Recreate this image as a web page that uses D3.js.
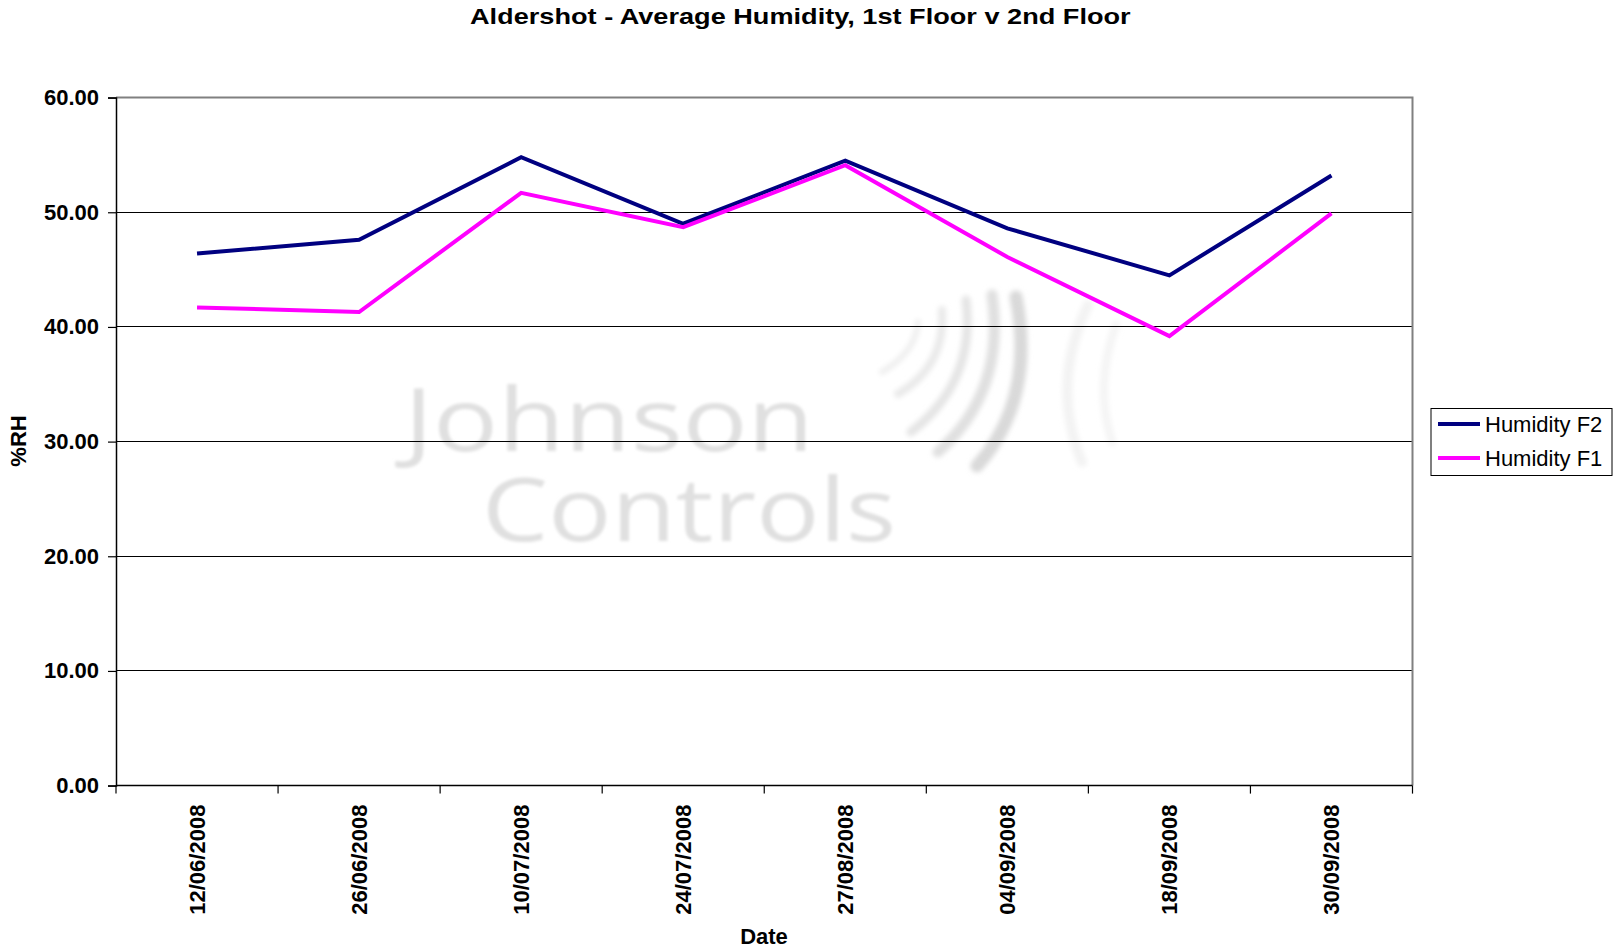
<!DOCTYPE html>
<html>
<head>
<meta charset="utf-8">
<script src="https://cdn.jsdelivr.net/npm/d3@7"></script>
<style>
  html, body { margin: 0; padding: 0; background: #fff; }
  svg { display: block; }
</style>
</head>
<body>
<svg id="chart" width="1613" height="951"></svg>
<script>
const categories = ["12/06/2008","26/06/2008","10/07/2008","24/07/2008","27/08/2008","04/09/2008","18/09/2008","30/09/2008"];
const humidityF2 = [46.4, 47.6, 54.8, 49.0, 54.5, 48.6, 44.5, 53.2];
const humidityF1 = [41.7, 41.3, 51.7, 48.7, 54.1, 46.1, 39.2, 49.9];
const seriesNames = ["Humidity F2", "Humidity F1"];
const seriesColors = ["#000080", "#FF00FF"];
const yTicks = [0, 10, 20, 30, 40, 50, 60];

const svg = d3.select("#chart");
const m = { left: 116, top: 97.6, right: 1412.5, bottom: 785.6 };
const FONT = "Liberation Sans, Arial, sans-serif";

const x = d3.scaleBand().domain(categories).range([m.left, m.right]).padding(0);
const xc = d => x(d) + x.bandwidth() / 2;
const y = d3.scaleLinear().domain([0, 60]).range([m.bottom, m.top]);

// blur filters for watermark
const defs = svg.append("defs");
defs.append("filter").attr("id", "blur").append("feGaussianBlur").attr("stdDeviation", 1.8);
defs.append("filter").attr("id", "blur2").attr("x", "-20%").attr("y", "-20%").attr("width", "140%").attr("height", "140%")
  .append("feGaussianBlur").attr("stdDeviation", 2.6);

// Watermark (background logo)
const wm = svg.append("g").attr("filter", "url(#blur)");
const wt = wm.append("text").attr("font-family", "Open Sans, sans-serif")
  .attr("font-size", 88).attr("fill", "#e0e0e0");
wt.append("tspan").attr("x", 404).attr("y", 451).attr("textLength", 410).attr("lengthAdjust", "spacingAndGlyphs").text("Johnson");
wt.append("tspan").attr("x", 482).attr("y", 541).attr("textLength", 414).attr("lengthAdjust", "spacingAndGlyphs").text("Controls");
const strokes = [
  { d: "M1016,297 Q1036,400 977,466", w: 13, c: "#d9d9d9" },
  { d: "M992,295 Q1006,392 938,452", w: 11, c: "#e0e0e0" },
  { d: "M966,300 Q976,382 911,432", w: 9, c: "#e5e5e5" },
  { d: "M942,310 Q946,366 898,394", w: 8, c: "#eaeaea" },
  { d: "M918,322 Q916,352 882,372", w: 6, c: "#efefef" },
  { d: "M1088,305 Q1050,385 1082,462", w: 10, c: "#f3f3f3" },
  { d: "M1116,325 Q1094,385 1112,442", w: 8, c: "#f4f4f4" }
];
const wl = svg.append("g").attr("filter", "url(#blur2)");
wl.selectAll("path").data(strokes).join("path")
  .attr("d", s => s.d).attr("fill", "none").attr("stroke", s => s.c)
  .attr("stroke-width", s => s.w).attr("stroke-linecap", "round");

// Gridlines
svg.append("g").selectAll("line").data(yTicks.filter(t => t > 0 && t < 60)).join("line")
  .attr("x1", m.left).attr("x2", m.right).attr("y1", d => y(d)).attr("y2", d => y(d))
  .attr("stroke", "#000").attr("stroke-width", 1).attr("shape-rendering", "crispEdges");

// Plot border (top, right)
svg.append("path")
  .attr("d", `M${m.left},${y(60)}H${m.right}V${m.bottom}`)
  .attr("fill", "none").attr("stroke", "#808080").attr("stroke-width", 2);

// Y axis
const yAxis = svg.append("g").attr("transform", `translate(${m.left},0)`)
  .call(d3.axisLeft(y).tickValues(yTicks).tickFormat(d3.format(".2f")).tickSize(8).tickPadding(9));
yAxis.select(".domain").attr("stroke", "#000").attr("stroke-width", 1.5);
yAxis.selectAll(".tick line").attr("stroke", "#000").attr("stroke-width", 1.2);
yAxis.selectAll("text").attr("font-family", FONT).attr("font-size", 22).attr("font-weight", "bold").attr("fill", "#000");

// X axis line and boundary ticks
const xg = svg.append("g");
xg.append("line").attr("x1", m.left).attr("x2", m.right).attr("y1", m.bottom).attr("y2", m.bottom)
  .attr("stroke", "#000").attr("stroke-width", 1.5);
const bounds = categories.map(d => x(d)).concat([x(categories[categories.length - 1]) + x.bandwidth()]);
xg.selectAll("line.tk").data(bounds).join("line").attr("class", "tk")
  .attr("x1", d => d).attr("x2", d => d).attr("y1", m.bottom).attr("y2", m.bottom + 8)
  .attr("stroke", "#000").attr("stroke-width", 1.2);
xg.selectAll("text").data(categories).join("text")
  .attr("transform", d => `translate(${xc(d) + 8},${m.bottom + 19}) rotate(-90)`)
  .attr("text-anchor", "end")
  .attr("font-family", FONT).attr("font-size", 22).attr("font-weight", "bold").attr("fill", "#000")
  .text(d => d);

// Lines
const line = d3.line().x((d, i) => xc(categories[i])).y(d => y(d));
[humidityF2, humidityF1].forEach((s, i) => {
  svg.append("path").datum(s).attr("d", line).attr("fill", "none")
    .attr("stroke", seriesColors[i]).attr("stroke-width", 4).attr("stroke-linejoin", "miter");
});

// Title (horizontally widened as in the reference)
svg.append("text").attr("transform", "translate(470,24) scale(1.234,1)")
  .attr("font-family", FONT).attr("font-size", 22).attr("font-weight", "bold").attr("fill", "#000")
  .text("Aldershot - Average Humidity, 1st Floor v 2nd Floor");

// Axis titles
svg.append("text").attr("transform", "translate(26,441) rotate(-90)").attr("text-anchor", "middle")
  .attr("font-family", FONT).attr("font-size", 22).attr("font-weight", "bold").attr("fill", "#000")
  .text("%RH");
svg.append("text").attr("x", 764).attr("y", 944).attr("text-anchor", "middle")
  .attr("font-family", FONT).attr("font-size", 22).attr("font-weight", "bold").attr("fill", "#000")
  .text("Date");

// Legend
const lg = svg.append("g");
lg.append("rect").attr("x", 1431).attr("y", 408.5).attr("width", 181).attr("height", 67)
  .attr("fill", "#fff").attr("stroke", "#000").attr("stroke-width", 1);
seriesNames.forEach((n, i) => {
  const ly = 424 + i * 34;
  lg.append("line").attr("x1", 1438).attr("x2", 1480).attr("y1", ly).attr("y2", ly)
    .attr("stroke", seriesColors[i]).attr("stroke-width", 4);
  lg.append("text").attr("x", 1485).attr("y", ly + 8)
    .attr("font-family", FONT).attr("font-size", 22).attr("fill", "#000").text(n);
});
</script>
</body>
</html>
